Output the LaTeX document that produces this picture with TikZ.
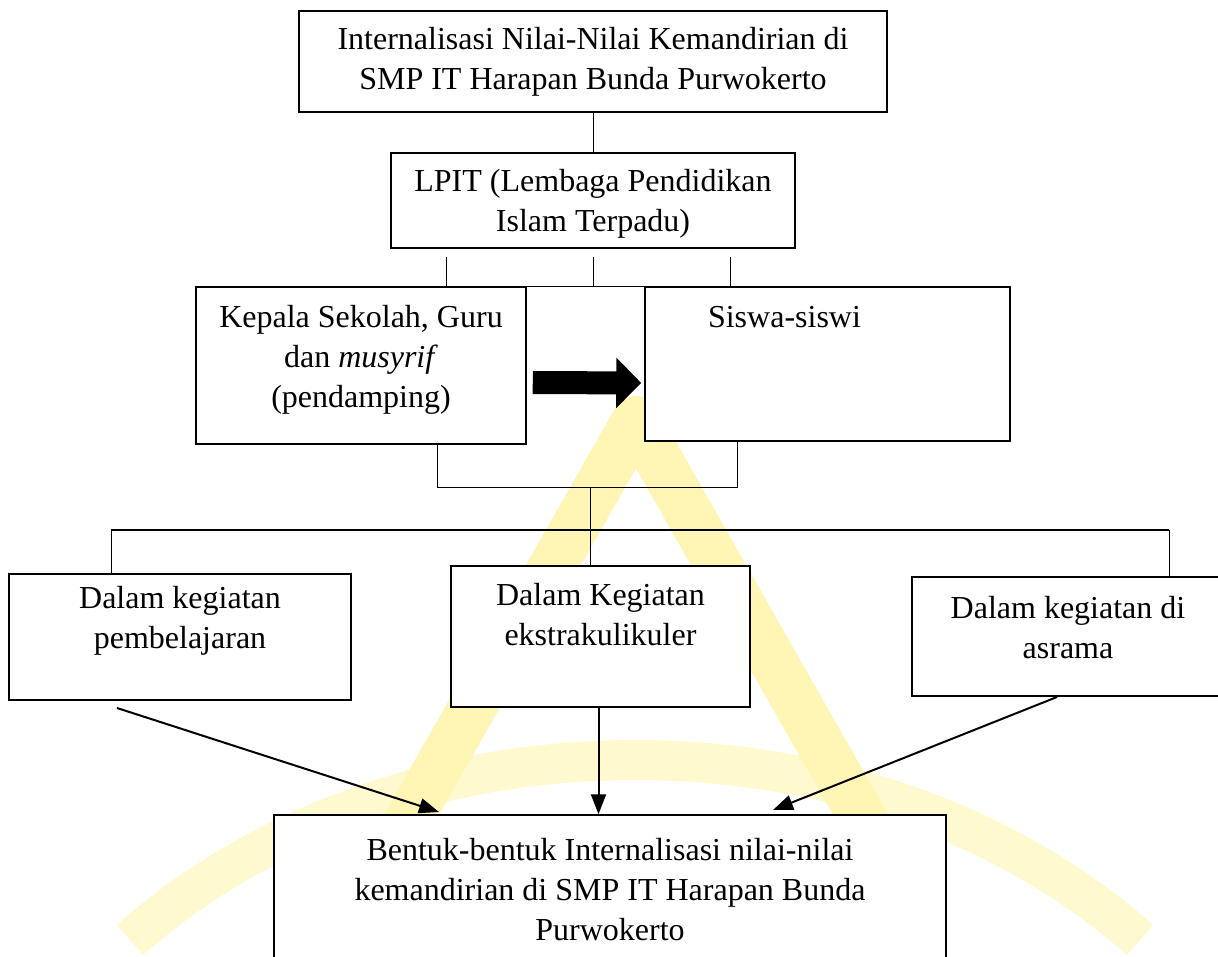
\documentclass[tikz,border=0pt]{standalone}
\usepackage{fontspec}
\setmainfont{Liberation Serif}
\usetikzlibrary{positioning,calc,arrows.meta}
\definecolor{wmyellow}{RGB}{255,245,180}
\definecolor{wmpale}{RGB}{255,249,208}

\begin{document}
\begin{tikzpicture}[x=1pt, y=-1pt,
    box/.style={rectangle, draw=black, line width=1.5pt, fill=white, inner sep=0pt},
    boxtext/.style={align=center, inner sep=0pt, font=\fontsize{32}{40}\selectfont},
    link/.style={draw=black, line width=1pt},
    arrow/.style={-{Triangle[length=20pt,width=15pt]}, line width=2pt},
    bigarrow/.style={-{Triangle[length=25pt,width=49pt]}, line width=23pt},
    wmark/.style={draw=wmyellow, line width=48pt, line join=round}
]
\useasboundingbox (0,0) rectangle (1218,957);
\clip (0,0) rectangle (1218,957);

% Watermark
\draw[wmark, draw=wmpale, line width=40pt] (130,940) .. controls (400,700) and (870,700) .. (1140,940);
\draw[wmark] (397,840) -- (636,420) -- (875,840);

% Top
\node[box, boxtext, minimum width=588pt, minimum height=101pt] (title) at (593,61.5)
    {Internalisasi Nilai-Nilai Kemandirian di\\SMP IT Harapan Bunda Purwokerto};
\node[box, boxtext, minimum width=404pt, minimum height=95pt, text depth=0pt] (lpit) at (593,200.5)
    {LPIT (Lembaga Pendidikan\\Islam Terpadu)};

% Actors
\node[box, minimum width=330pt, minimum height=157pt] (kepala) at (361,365.5) {};
\node[boxtext, below=19pt of kepala.north] (kepalatext)
    {Kepala Sekolah, Guru\\dan \textit{musyrif}\\(pendamping)};
\node[box, minimum width=365pt, minimum height=154pt] (siswa) at (827.5,364) {};
\node[boxtext, below=20pt of siswa.north, xshift=-43pt] (siswatext) {Siswa-siswi};

% Activities
\node[box, minimum width=342pt, minimum height=126pt] (belajar) at (180,637) {};
\node[boxtext, below=13pt of belajar.north] (belajartext) {Dalam kegiatan\\pembelajaran};
\node[box, minimum width=299pt, minimum height=141pt] (ekskul) at (600.5,636.5) {};
\node[boxtext, below=18pt of ekskul.north] (ekskultext) {Dalam Kegiatan\\ekstrakulikuler};
\node[box, minimum width=318pt, minimum height=119pt] (asrama) at (1071,636.5) {};
\node[boxtext, below=20pt of asrama.north, xshift=-3pt] (asramatext) {Dalam kegiatan di\\asrama};

% Result
\node[box, minimum width=672pt, minimum height=175pt] (bentuk) at (610,902.5) {};
\node[boxtext, below=24pt of bentuk.north] (bentuktext)
    {Bentuk-bentuk Internalisasi nilai-nilai\\kemandirian di SMP IT Harapan Bunda\\Purwokerto};

% Connections
\coordinate (tL) at (446,257);
\coordinate (tC) at (593,257);
\coordinate (tR) at (730,257);
\coordinate (bL) at (437,487);
\coordinate (bR) at (737,487);
\coordinate (bC) at (590,487);
\coordinate (hL) at (111,530);
\coordinate (hR) at (1169,530);
\coordinate (aL) at (117,708);
\coordinate (aLe) at (439,812);
\coordinate (aR) at (1057,697);
\coordinate (aRe) at (773,810);

\draw[link] (title) -- (lpit);
\draw[link] (tL) -- (tL |- kepala.north);
\draw[link] (tC) -- (tC |- kepala.north);
\draw[link] (tR) -- (tR |- siswa.north);
\draw[link] (kepala.north east) -- (siswa.north west);
\draw[link] (bL |- kepala.south) -- (bL) -- (bR) -- (bR |- siswa.south);
\draw[link] (bC) -- (bC |- ekskul.north);
\draw[link, line width=1.3pt] (hL) -- (hR);
\draw[link] (hL) -- (hL |- belajar.north);
\draw[link] (hR) -- (hR |- asrama.north);

\draw[bigarrow] ($(kepala.east)+(6,17)$) -- ($(siswa.west)+(-3,19)$);

\draw[arrow] (aL) -- (aLe);
\draw[arrow] ([xshift=-2pt]ekskul.south) -- ([xshift=-2pt]ekskul.south |- bentuk.north);
\draw[arrow] (aR) -- (aRe);

\end{tikzpicture}
\end{document}
